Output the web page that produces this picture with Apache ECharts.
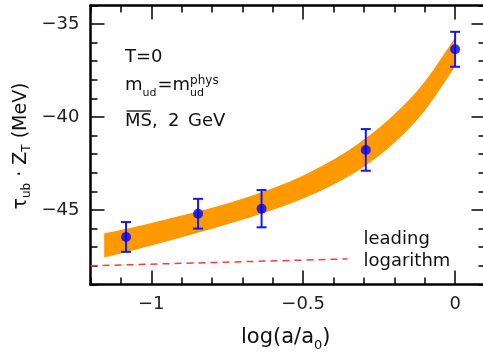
<!DOCTYPE html>
<html><head><meta charset="utf-8">
<script src="https://cdn.jsdelivr.net/npm/echarts@6/dist/echarts.min.js"></script>
<style>html,body{margin:0;padding:0;background:#fff}#c{width:483px;height:352px}</style>
</head><body><div id="c"></div><script>
// ---- data ----
const pointX = [-1.083, -0.846, -0.637, -0.294, 0.0];
const pointY = [-46.45, -45.20, -44.93, -41.77, -36.36];
const pointErr = [0.80, 0.80, 1.00, 1.12, 0.94];
const bandX = [-1.155, -1.1, -1.0, -0.9, -0.8, -0.7, -0.6, -0.5, -0.4, -0.3, -0.2, -0.1, 0.0];
const bandUpper = [-46.26, -46.08, -45.70, -45.30, -44.88, -44.40, -43.83, -43.14, -42.29, -41.21, -39.85, -38.10, -35.72];
const bandLower = [-47.55, -47.34, -46.91, -46.46, -46.01, -45.53, -44.99, -44.38, -43.63, -42.67, -41.39, -39.66, -37.28];
const leadLogX = [-1.2, -0.355];
const leadLogY = [-48.00, -47.63];
const xMajorTicks = [-1, -0.5, 0];
const yMajorTicks = [-45, -40, -35];

const FONT = 'DejaVu Sans';
const F = '"DejaVu Sans"';
const mctx = document.createElement('canvas').getContext('2d');
function tw(s, size){ mctx.font = size + 'px ' + F; return mctx.measureText(s).width; }

function fmtX(v){ const r = Math.round(v*2)/2; if (Math.abs(v-r) > 1e-6) return ''; return r === 0 ? '0' : (r < 0 ? '\u2212' + (-r) : String(r)); }
function fmtY(v){ const r = Math.round(v/5)*5; if (Math.abs(v-r) > 1e-6) return ''; return r < 0 ? '\u2212' + (-r) : String(r); }

const lblStyle = {fontFamily: FONT, fontSize: 18, color: '#222'};
function mkX(pos, major, showLabel){
  const tick = {show: true, inside: true, length: major ? 14 : 7, lineStyle: {color: '#000', width: 1.5}};
  if (major) tick.customValues = xMajorTicks;
  return {type: 'value', position: pos, min: -1.2, max: 0.1, interval: 0.1,
    axisLine: {show: !major, onZero: false, lineStyle: {color: '#000', width: 2.5}},
    axisTick: tick,
    axisLabel: showLabel ? Object.assign({show: true, customValues: xMajorTicks, formatter: fmtX, margin: 11}, lblStyle) : {show: false},
    splitLine: {show: false}, silent: true};
}
function mkY(pos, major, showLabel){
  const tick = {show: true, inside: true, length: major ? 14 : 7, lineStyle: {color: '#000', width: 1.5}};
  if (major) tick.customValues = yMajorTicks;
  return {type: 'value', position: pos, min: -49, max: -34, interval: 1,
    axisLine: {show: !major, onZero: false, lineStyle: {color: '#000', width: 2.5}},
    axisTick: tick,
    axisLabel: showLabel ? Object.assign({show: true, customValues: yMajorTicks, formatter: fmtY, margin: 11}, lblStyle) : {show: false},
    splitLine: {show: false}, silent: true};
}

function T(x, y, text, size, align){
  return {type: 'text', x: x, y: y, silent: true, z: 100,
    style: {text: text, font: size + 'px ' + F, fill: '#111', align: align || 'left', verticalAlign: 'middle',
            textAlign: align || 'left', textVerticalAlign: 'middle'}};
}

const graphics = [];
graphics.push(T(125, 57, 'T=0', 18));
(function(){
  let x = 125;
  graphics.push(T(x, 85.4, 'm', 18)); x += tw('m', 18);
  graphics.push(T(x, 93.4, 'ud', 11)); x += tw('ud', 11) + 1;
  graphics.push(T(x, 85.4, '=m', 18)); x += tw('=m', 18);
  graphics.push(T(x, 81, 'phys', 12));
  graphics.push(T(x, 93.4, 'ud', 11));
})();
graphics.push(T(125, 121.7, 'MS,', 18));
graphics.push({type: 'line', silent: true, z: 100, shape: {x1: 126.5, y1: 111, x2: 125 + tw('MS', 18) - 1, y2: 111}, style: {stroke: '#111', lineWidth: 1.3}});
graphics.push(T(168, 121.7, '2', 18));
graphics.push(T(188, 121.7, 'GeV', 18));
graphics.push(T(363.5, 239.7, 'leading', 18));
graphics.push(T(363.5, 261.2, 'logarithm', 18));
(function(){
  let x = 241;
  graphics.push(T(x, 337.6, 'log(a/a', 21)); x += tw('log(a/a', 21);
  graphics.push(T(x, 346, '0', 13)); x += tw('0', 13);
  graphics.push(T(x, 337.6, ')', 21));
})();
graphics.push({type: 'text', x: 21, y: 146, rotation: Math.PI/2, silent: true, z: 100,
  style: {text: '{m|\u03c4}{s|ub}{m| \u00b7 Z}{s|T}{m| (MeV)}', align: 'center', verticalAlign: 'middle',
    textAlign: 'center', textVerticalAlign: 'middle', fill: '#111',
    rich: {m: {fontFamily: FONT, fontSize: 19, lineHeight: 24, fill: '#111', color: '#111'},
           s: {fontFamily: FONT, fontSize: 12, lineHeight: 10, verticalAlign: 'bottom', fill: '#111', color: '#111'}}}});

// smooth path through pixel points (Catmull-Rom -> cubic Bezier)
function curve(pts, first){
  let d = first ? ('M' + pts[0][0] + ' ' + pts[0][1]) : ('L' + pts[0][0] + ' ' + pts[0][1]);
  for (let i = 0; i < pts.length - 1; i++){
    const p0 = pts[Math.max(0, i-1)], p1 = pts[i], p2 = pts[i+1], p3 = pts[Math.min(pts.length-1, i+2)];
    const c1 = [p1[0] + (p2[0]-p0[0])/6, p1[1] + (p2[1]-p0[1])/6];
    const c2 = [p2[0] - (p3[0]-p1[0])/6, p2[1] - (p3[1]-p1[1])/6];
    d += ' C' + c1[0] + ' ' + c1[1] + ' ' + c2[0] + ' ' + c2[1] + ' ' + p2[0] + ' ' + p2[1];
  }
  return d;
}

const chart = echarts.init(document.getElementById('c'), null, {renderer: 'canvas', width: 483, height: 352});
chart.setOption({
  animation: false,
  backgroundColor: '#fff',
  grid: {left: 90.5, right: -2.5, top: 5.4, bottom: 67.6, containLabel: false, outerBoundsMode: 'none'},
  xAxis: [mkX('bottom', false, true), mkX('bottom', true, false), mkX('top', false, false), mkX('top', true, false)],
  yAxis: [mkY('left', false, true), mkY('left', true, false), mkY('right', false, false), mkY('right', true, false)],
  series: [
    {type: 'custom', z: 1, silent: true, clip: true, encode: {x: 0, y: 1},
     data: bandX.map((x, i) => [x, bandUpper[i], bandLower[i]]),
     renderItem: function(params, api){
       if (params.dataIndex !== 0) return null;
       const up = bandX.map((x, i) => api.coord([x, bandUpper[i]]));
       const lo = bandX.map((x, i) => api.coord([x, bandLower[i]])).reverse();
       const d = curve(up, true) + ' ' + curve(lo, false) + ' Z';
       return {type: 'path', shape: {pathData: d}, style: {fill: '#ff9900', stroke: null}};
     }},
    {type: 'line', data: leadLogX.map((x, i) => [x, leadLogY[i]]), symbol: 'none', silent: true, z: 2,
     lineStyle: {color: '#ff3c3c', width: 1.5, type: [7, 5]}},
    {type: 'custom', z: 3, silent: true, encode: {x: 0, y: 1},
     data: pointX.map((x, i) => [x, pointY[i], pointErr[i]]),
     renderItem: function(params, api){
       const x = api.value(0), y = api.value(1), e = api.value(2);
       const t = api.coord([x, y + e]), b = api.coord([x, y - e]);
       const hw = 5, st = {stroke: '#1616ee', lineWidth: 2, fill: null};
       return {type: 'group', children: [
         {type: 'line', shape: {x1: t[0], y1: t[1], x2: b[0], y2: b[1]}, style: st},
         {type: 'line', shape: {x1: t[0]-hw, y1: t[1], x2: t[0]+hw, y2: t[1]}, style: st},
         {type: 'line', shape: {x1: b[0]-hw, y1: b[1], x2: b[0]+hw, y2: b[1]}, style: st}
       ]};
     }},
    {type: 'scatter', z: 4, silent: true, symbol: 'circle', symbolSize: 10,
     itemStyle: {color: '#0000ff'}, data: pointX.map((x, i) => [x, pointY[i]])}
  ],
  graphic: graphics
});
</script></body></html>
